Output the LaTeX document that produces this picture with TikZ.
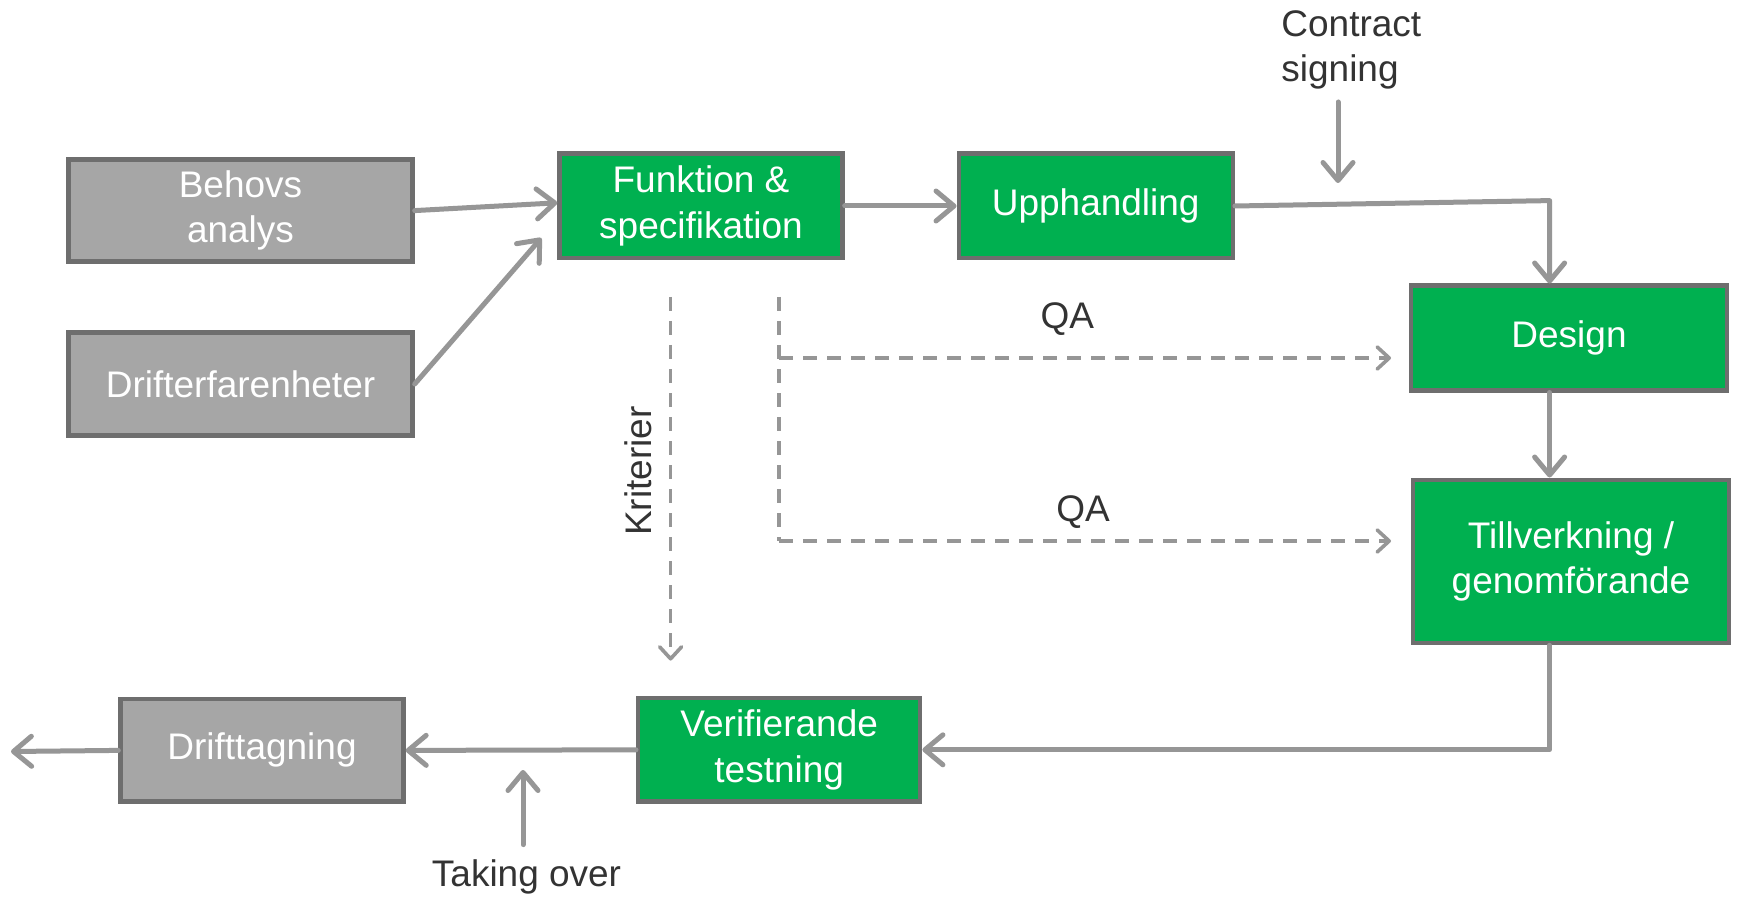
\documentclass[tikz,border=0pt]{standalone}
\usepackage{fontspec}
\setmainfont{Liberation Sans}
\usetikzlibrary{arrows.meta}
\definecolor{bgreen}{HTML}{00B050}
\definecolor{bgray}{HTML}{A6A6A6}
\definecolor{bborder}{HTML}{6E6E6E}
\definecolor{arr}{HTML}{969696}
\definecolor{txt}{HTML}{333333}
\begin{document}
\begin{tikzpicture}[x=0.5pt,y=-0.5pt,
  box/.style={draw=bborder, line width=2.2pt, text=white, align=center,
    font=\fontsize{18.5}{22.7}\selectfont, inner sep=0pt},
  gbox/.style={box, fill=bgreen},
  ybox/.style={box, fill=bgray},
  conn/.style={draw=arr, line width=2.5pt, line cap=round, line join=round,
    -{Straight Barb[length=9pt,width=15pt,round]}},
  dline/.style={draw=arr, line width=1.8pt, dash pattern=on 7pt off 5pt},
  dconn/.style={dline, -{Straight Barb[length=6pt,width=11pt,round]}},
  lbl/.style={text=txt, font=\fontsize{18.5}{22.7}\selectfont, inner sep=0pt}]
\useasboundingbox[fill=white] (0,0) rectangle (1738,898);

% boxes
\node[ybox, minimum width=172pt, minimum height=51pt] (beh) at (240.5,210.6) {Behovs\\analys};
\node[ybox, minimum width=172pt, minimum height=51.5pt] (dfe) at (240.5,384) {Drifterfarenheter};
\node[gbox, minimum width=141.5pt, minimum height=52.3pt] (fun) at (701,206) {Funktion \&\\specifikation};
\node[gbox, minimum width=137pt, minimum height=52.3pt] (upp) at (1095.7,206) {Upphandling};
\node[gbox, minimum width=158pt, minimum height=52.3pt] (des) at (1569,338) {Design};
\node[gbox, minimum width=158pt, minimum height=81.7pt] (til) at (1571,561.4) {Tillverkning /\\genomförande};
\node[gbox, minimum width=141pt, minimum height=51.8pt] (ver) at (779.2,749.8) {Verifierande\\testning};
\node[ybox, minimum width=141.5pt, minimum height=51.2pt] (dri) at (262,750.4) {Drifttagning};

% labels
\node[lbl, align=left, anchor=north west] (cs) at (1281,10) {Contract\\signing};
\node[lbl] (tak) at (526.5,877) {Taking over};
\node[lbl, rotate=90] (kri) at (638.4,471) {Kriterier};
\node[lbl] (qa1) at (1067.4,319) {QA};
\node[lbl] (qa2) at (1083,512) {QA};

% coordinates
\coordinate (c1) at (1549.6,200.6);
\coordinate (cs1) at (1338,102);
\coordinate (cs2) at (1338,183);
\coordinate (out) at (11,751.5);
\coordinate (to1) at (523,844.6);
\coordinate (to2) at (523,770);
\coordinate (k1) at (670.6,297);
\coordinate (k2) at (670.6,660.6);
\coordinate (q0) at (779.2,297);
\coordinate (q1) at (779.2,358);
\coordinate (q2) at (779.2,541);
\coordinate (d1) at (1391,358);
\coordinate (d2) at (1391,541);

% solid connectors
\draw[conn] (beh.east) -- ([yshift=1.6pt]fun.west);
\draw[conn] (dfe.east) -- ([xshift=-8pt,yshift=-16pt]fun.west);
\draw[conn] (fun.east) -- (upp.west);
\draw[conn] (upp.east) -- (c1) -- (c1 |- des.north);
\draw[conn] (cs1) -- (cs2);
\draw[conn] (des.south -| c1) -- (til.north -| c1);
\draw[conn] (til.south -| c1) -- (c1 |- ver.east) -- (ver.east);
\draw[conn] (ver.west) -- (dri.east);
\draw[conn] (dri.west) -- (out);
\draw[conn] (to1) -- (to2);

% dashed connectors
\draw[dconn] (k1) -- (k2);
\draw[dline] (q0) -- (q2);
\draw[dconn] (q1) -- (d1);
\draw[dconn] (q2) -- (d2);
\end{tikzpicture}
\end{document}
